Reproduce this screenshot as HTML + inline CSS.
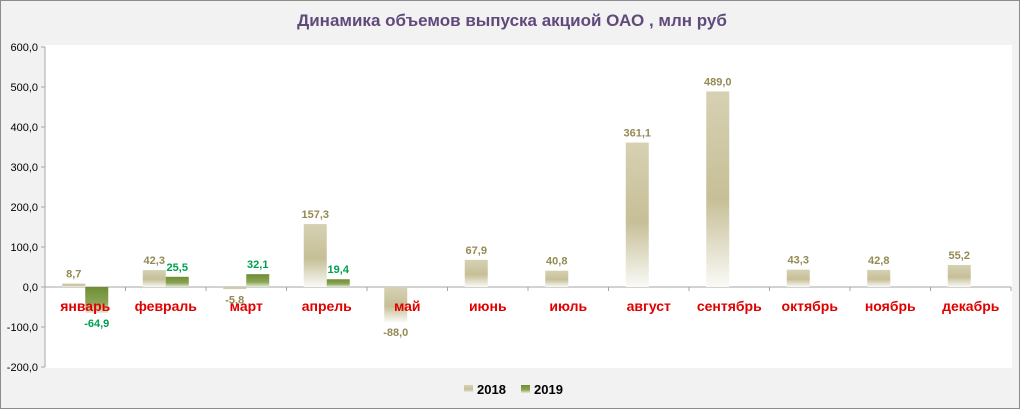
<!DOCTYPE html>
<html><head><meta charset="utf-8"><style>
body{margin:0;background:#fff}
svg{display:block;font-family:"Liberation Sans","DejaVu Sans",sans-serif}
</style></head><body>
<svg width="1024" height="412" viewBox="0 0 1024 412">
<defs>
<linearGradient id="g18" x1="0" y1="0" x2="0" y2="1">
<stop offset="0" stop-color="#d6d1b3"/><stop offset="0.55" stop-color="#c6bf97"/><stop offset="1" stop-color="#fafaf7"/>
</linearGradient>
<linearGradient id="g19" x1="0" y1="0" x2="0" y2="1">
<stop offset="0" stop-color="#6f8d35"/><stop offset="0.6" stop-color="#8aa455"/><stop offset="1" stop-color="#e6ecd9"/>
</linearGradient>
</defs>
<rect x="0.5" y="0.5" width="1019" height="408" fill="#f2f2f2" stroke="#8c8c8c"/>
<rect x="45" y="45" width="967" height="323" fill="#ffffff"/>
<text x="512" y="26" text-anchor="middle" font-size="17" font-weight="bold" fill="#604a7b">Динамика объемов выпуска акциой ОАО , млн руб</text>
<g id="axes"></g>
<g id="bars"></g>
<g id="labels"></g>
<g id="legend">
<rect x="464" y="385" width="9" height="8" fill="url(#g18)"/>
<text x="477" y="394" font-size="13" font-weight="bold" fill="#000">2018</text>
<rect x="521" y="385" width="9" height="8" fill="url(#g19)"/>
<text x="534" y="394" font-size="13" font-weight="bold" fill="#000">2019</text>
</g>
</svg>
<script>
const categories=["январь","февраль","март","апрель","май","июнь","июль","август","сентябрь","октябрь","ноябрь","декабрь"];
const series2018=[8.7,42.3,-5.8,157.3,-88.0,67.9,40.8,361.1,489.0,43.3,42.8,55.2];
const series2019=[-64.9,25.5,32.1,19.4,null,null,null,null,null,null,null,null];
const yTicks=[600,500,400,300,200,100,0,-100,-200];
const NS="http://www.w3.org/2000/svg";
const x0=45,x1=1011,yMax=600,yMin=-200,yTop=47,yBot=367;
const bw=(x1-x0)/categories.length, barW=23;
function y(v){return yTop+(yMax-v)/(yMax-yMin)*(yBot-yTop);}
function fmt(v){return v.toFixed(1).replace('.',',');}
function mk(tag,attrs,parent){const e=document.createElementNS(NS,tag);for(const k in attrs)e.setAttribute(k,attrs[k]);parent.appendChild(e);return e;}
const ax=document.getElementById('axes'),bars=document.getElementById('bars'),labs=document.getElementById('labels');
let l=mk('line',{x1:x0,y1:yTop,x2:x0,y2:yBot,stroke:'#a6a6a6'},ax);


yTicks.forEach(t=>{
 const tk=mk('line',{x1:x0-4,y1:y(t),x2:x0,y2:y(t),stroke:'#a6a6a6'},ax);
 
 
 const tx=mk('text',{x:x0-7,y:y(t)+4,'text-anchor':'end','font-size':'11',fill:'#000'},ax);
 tx.textContent=fmt(t);
 
 
});
const za=mk('line',{x1:x0,y1:y(0),x2:x1,y2:y(0),stroke:'#a6a6a6'},ax);


for(let i=0;i<=categories.length;i++){
 const tk=mk('line',{x1:x0+i*bw,y1:y(0),x2:x0+i*bw,y2:y(0)+4,stroke:'#a6a6a6'},ax);
 
 
}
categories.forEach((c,i)=>{
 const cx=x0+(i+0.5)*bw;
 [[series2018,'url(#g18)','#948a54',-barW,'2018'],[series2019,'url(#g19)','#00a050',0,'2019']].forEach(([s,fill,col,off,nm])=>{
  const v=s[i]; if(v===null||v===undefined)return;
  const top=Math.min(y(v),y(0)),h=Math.abs(y(v)-y(0));
  const r=mk('rect',{x:cx+off,y:top,width:barW,height:Math.max(h,1),fill:fill},bars);
  
  
  const ly=v>=0?y(v)-6:y(v)+14;
  const t=mk('text',{x:cx+off+barW/2,y:ly,'text-anchor':'middle','font-size':'11','font-weight':'bold',fill:col},labs);
  t.textContent=fmt(v);
  
  
 });
 const tx=mk('text',{x:cx,y:311,'text-anchor':'middle','font-size':'14','font-weight':'bold',fill:'#e00000'},labs);
 tx.textContent=c;
 
 
});
</script>
</body></html>
